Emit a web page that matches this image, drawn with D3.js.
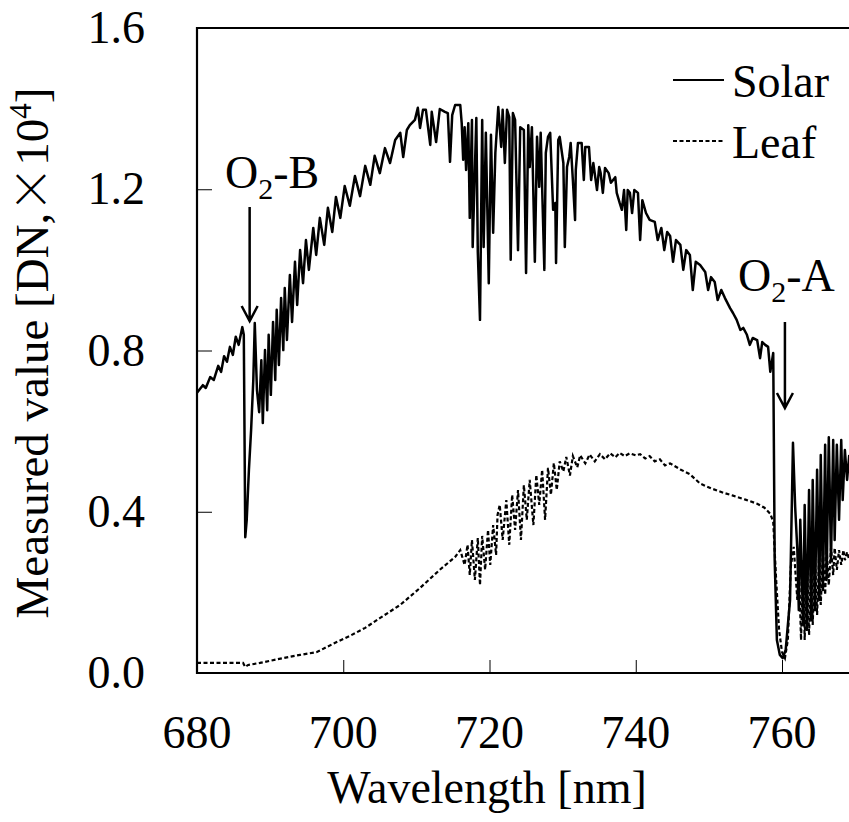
<!DOCTYPE html>
<html>
<head>
<meta charset="utf-8">
<script src="https://cdn.jsdelivr.net/npm/d3@7"></script>
<style>
  body { margin: 0; background: #fff; }
  svg { display: block; }
</style>
</head>
<body>
<div id="chart"></div>
<script>
var solarWl = [680.0, 680.8, 681.2, 681.8, 682.3, 682.9, 683.3, 683.7, 684.1, 684.5, 684.9, 685.3, 685.7, 686.2, 686.4,
  686.6, 686.8, 687.1, 687.4, 687.7, 687.9, 688.2, 688.5, 688.8, 689.0, 689.3, 689.6, 689.8, 690.1, 690.4, 690.7,
  690.9, 691.2, 691.5, 691.8, 692.0, 692.3, 692.7, 693.0, 693.4, 693.7, 694.1, 694.5, 694.9, 695.3, 695.9, 696.3,
  696.8, 697.4, 697.9, 698.5, 699.0, 699.6, 700.2, 700.9, 701.6, 702.3, 703.0, 703.7, 704.3, 705.0, 705.7, 706.4,
  707.1, 707.8, 708.2, 708.7, 709.1, 709.8, 710.2, 710.5, 710.9, 711.3, 711.9, 712.1, 712.7, 713.2, 713.9, 714.3,
  714.6, 714.9, 715.3, 716.0, 716.2, 716.4, 716.6, 716.8, 717.1, 717.3, 717.6, 717.7, 718.2, 718.4, 718.7, 719.0,
  719.2, 719.5, 719.9, 720.2, 720.5, 720.8, 721.2, 721.6, 721.8, 722.1, 722.4, 722.7, 722.9, 723.2, 723.5, 723.9,
  724.2, 724.7, 725.0, 725.3, 725.5, 725.8, 726.2, 726.5, 726.8, 727.0, 727.5, 727.7, 728.0, 728.3, 728.7, 729.0,
  729.1, 729.4, 729.6, 730.1, 730.3, 730.6, 730.9, 731.1, 731.4, 731.7, 731.8, 732.1, 732.6, 732.9, 733.1, 733.6,
  733.9, 734.2, 734.7, 735.0, 735.2, 735.5, 735.8, 736.3, 736.6, 737.2, 737.4, 737.8, 738.1, 738.4, 738.7, 738.9,
  739.2, 739.5, 739.8, 740.3, 740.6, 740.9, 741.4, 741.9, 742.6, 743.0, 743.5, 743.9, 744.3, 744.7, 745.1, 745.5,
  746.1, 746.5, 746.9, 747.4, 747.8, 748.2, 748.8, 749.5, 749.9, 750.3, 750.8, 751.2, 751.7, 752.2, 752.9, 753.3,
  753.8, 754.3, 754.7, 755.2, 755.6, 756.0, 756.6, 757.0, 757.3, 757.7, 758.1, 758.4, 758.8, 759.0, 759.3, 759.7,
  760.1, 760.5, 761.1, 761.5, 761.8, 762.1, 762.3, 762.5, 762.9, 763.1, 763.4, 763.7, 764.0, 764.2, 764.5, 764.8,
  765.1, 765.3, 765.6, 765.9, 766.1, 766.4, 766.7, 767.0, 767.2, 767.5, 767.8, 768.1, 768.3, 768.6, 768.9, 769.2];
var solarVal = [0.695, 0.714, 0.707, 0.734, 0.727, 0.762, 0.747, 0.786, 0.772, 0.809, 0.789, 0.834, 0.814, 0.858, 0.839,
  0.337, 0.380, 0.504, 0.603, 0.727, 0.868, 0.702, 0.647, 0.776, 0.620, 0.801, 0.652, 0.839, 0.690, 0.871, 0.727,
  0.901, 0.764, 0.930, 0.801, 0.955, 0.826, 0.987, 0.871, 1.020, 0.913, 1.049, 0.967, 1.074, 1.000, 1.104, 1.037,
  1.129, 1.062, 1.154, 1.094, 1.181, 1.129, 1.208, 1.159, 1.233, 1.183, 1.258, 1.211, 1.283, 1.240, 1.302, 1.265,
  1.322, 1.340, 1.280, 1.347, 1.359, 1.372, 1.402, 1.352, 1.397, 1.397, 1.310, 1.392, 1.317, 1.399, 1.392, 1.389,
  1.268, 1.384, 1.409, 1.409, 1.364, 1.273, 1.354, 1.248, 1.364, 1.129, 1.372, 1.057, 1.377, 1.044, 0.876, 1.372,
  1.057, 1.340, 0.967, 1.335, 1.092, 1.290, 1.404, 1.305, 1.397, 1.265, 1.397, 1.379, 1.025, 1.389, 1.372, 1.049,
  1.354, 1.347, 0.992, 1.359, 1.255, 1.354, 1.020, 1.330, 1.206, 1.340, 1.000, 1.290, 1.330, 1.340, 1.149, 1.166,
  1.017, 1.322, 1.330, 1.265, 1.057, 1.255, 1.280, 1.315, 1.223, 1.124, 1.248, 1.315, 1.315, 1.223, 1.305, 1.305,
  1.223, 1.265, 1.198, 1.255, 1.240, 1.191, 1.253, 1.240, 1.216, 1.230, 1.191, 1.166, 1.149, 1.198, 1.099, 1.198,
  1.191, 1.141, 1.198, 1.191, 1.074, 1.173, 1.141, 1.124, 1.119, 1.074, 1.104, 1.049, 1.094, 1.084, 1.020, 1.074,
  1.062, 1.000, 1.049, 1.037, 0.950, 1.020, 1.012, 0.995, 0.950, 0.982, 0.970, 0.925, 0.950, 0.930, 0.905, 0.893,
  0.876, 0.851, 0.856, 0.839, 0.814, 0.831, 0.826, 0.781, 0.821, 0.814, 0.809, 0.747, 0.794, 0.280, 0.082, 0.045,
  0.037, 0.057, 0.181, 0.571, 0.412, 0.305, 0.156, 0.380, 0.119, 0.417, 0.107, 0.454, 0.131, 0.479, 0.156, 0.504,
  0.181, 0.541, 0.206, 0.566, 0.231, 0.585, 0.280, 0.578, 0.330, 0.566, 0.380, 0.578, 0.429, 0.553, 0.479, 0.541];

var leafWl = [680.0, 686.3, 686.6, 687.0, 688.6, 691.8, 694.1, 696.4, 699.1, 700.9, 703.0, 705.0, 707.8, 710.5, 713.2,
  715.3, 716.0, 716.6, 717.0, 717.3, 717.6, 718.0, 718.4, 718.7, 719.0, 719.4, 719.8, 720.1, 720.5, 720.9, 721.1,
  721.4, 721.8, 722.3, 722.7, 723.1, 723.5, 723.9, 724.3, 724.7, 725.1, 725.5, 726.0, 726.4, 726.8, 727.2, 727.6,
  728.0, 728.4, 728.8, 729.2, 729.6, 730.1, 730.5, 731.0, 731.4, 732.0, 732.4, 733.1, 733.7, 734.4, 735.1, 735.8,
  736.5, 737.2, 737.8, 738.5, 739.2, 740.0, 740.6, 741.3, 741.9, 742.6, 743.3, 744.0, 744.7, 746.1, 747.4, 748.8,
  750.3, 752.0, 753.3, 755.0, 756.6, 757.6, 758.4, 758.8, 759.2,
  759.6, 760.0, 760.4, 760.8, 761.2, 761.6, 762.1, 762.3, 762.6, 762.9, 763.1, 763.4, 763.7, 764.0, 764.2, 764.5,
  764.8, 765.1, 765.3, 765.6, 765.9, 766.1, 766.4, 766.7, 767.0, 767.2, 767.5, 767.8, 768.1, 768.4, 768.6, 768.9, 769.2];
var leafVal = [0.025, 0.025, 0.015, 0.020, 0.025, 0.037, 0.045, 0.052, 0.077, 0.092, 0.112, 0.136, 0.169, 0.211, 0.256,
  0.288, 0.305, 0.268, 0.318, 0.243, 0.330, 0.231, 0.335, 0.218, 0.340, 0.256, 0.355, 0.268, 0.367, 0.293, 0.392,
  0.417, 0.330, 0.429, 0.318, 0.442, 0.355, 0.454, 0.330, 0.466, 0.380, 0.479, 0.367, 0.491, 0.417, 0.504, 0.380,
  0.509, 0.442, 0.521, 0.454, 0.525, 0.500, 0.536, 0.490, 0.538, 0.510, 0.540, 0.520, 0.542, 0.525, 0.543, 0.530,
  0.545, 0.535, 0.546, 0.538, 0.545, 0.540, 0.543, 0.532, 0.538, 0.525, 0.530, 0.515, 0.520, 0.505, 0.493, 0.470,
  0.458, 0.447, 0.440, 0.430, 0.420, 0.410, 0.395, 0.375, 0.231,
  0.107, 0.052, 0.037, 0.082, 0.263, 0.313, 0.181, 0.280, 0.082, 0.280, 0.082, 0.293, 0.094, 0.293, 0.119, 0.300,
  0.144, 0.305, 0.169, 0.305, 0.194, 0.310, 0.218, 0.310, 0.243, 0.310, 0.256, 0.305, 0.268, 0.305, 0.280, 0.300, 0.280];

var xTicks = [680, 700, 720, 740, 760];
var yTicks = [0.0, 0.4, 0.8, 1.2, 1.6];

var solar = solarWl.map(function (d, i) { return { wl: d, v: solarVal[i] }; });
var leaf = leafWl.map(function (d, i) { return { wl: d, v: leafVal[i] }; });

var W = 849, H = 822;
var plotL = 197, plotT = 28, plotB = 673, plotR = 849;
var font = '"Liberation Serif", "Times New Roman", serif';

var svg = d3.select('#chart').append('svg')
  .attr('width', W)
  .attr('height', H)
  .style('font-family', font);

// 680 sits on the left axis, 20 nm = 146.25 px; the chart is cut at the right
var x = d3.scaleLinear().domain([680, 770]).range([plotL, plotL + 90 * 7.3125]);
var y = d3.scaleLinear().domain([0, 1.6]).range([plotB, plotT]);

svg.append('clipPath').attr('id', 'plot')
  .append('rect').attr('x', plotL).attr('y', plotT).attr('width', plotR - plotL).attr('height', plotB - plotT);

var line = d3.line()
  .x(function (d) { return x(d.wl); })
  .y(function (d) { return y(d.v); });

var g = svg.append('g').attr('clip-path', 'url(#plot)');

g.append('path')
  .datum(leaf)
  .attr('d', line)
  .attr('fill', 'none')
  .attr('stroke', '#000')
  .attr('stroke-width', 2.2)
  .attr('stroke-dasharray', '4,2.5');

g.append('path')
  .datum(solar)
  .attr('d', line)
  .attr('fill', 'none')
  .attr('stroke', '#000')
  .attr('stroke-width', 2.5)
  .attr('stroke-linejoin', 'round');

// axes: ticks point inwards, labels drawn by hand
var xAxis = svg.append('g')
  .attr('transform', 'translate(0,' + plotB + ')')
  .call(d3.axisTop(x).tickValues(xTicks.slice(1)).tickSize(13).tickFormat(''));
xAxis.select('.domain').remove();
xAxis.selectAll('line').attr('stroke', '#000').attr('stroke-width', 1);

var yAxis = svg.append('g')
  .attr('transform', 'translate(' + plotL + ',0)')
  .call(d3.axisRight(y).tickValues(yTicks.slice(1, 4)).tickSize(15).tickFormat(''));
yAxis.select('.domain').remove();
yAxis.selectAll('line').attr('stroke', '#000').attr('stroke-width', 1);

// frame
svg.append('path')
  .attr('d', 'M' + plotR + ',' + plotT + 'H' + plotL + 'V' + plotB + 'H' + plotR)
  .attr('fill', 'none')
  .attr('stroke', '#000')
  .attr('stroke-width', 2.2);

svg.selectAll('.xlab')
  .data(xTicks)
  .enter().append('text')
  .attr('x', function (d) { return x(d); })
  .attr('y', 748)
  .attr('text-anchor', 'middle')
  .style('font-size', '46px')
  .text(function (d) { return d; });

svg.selectAll('.ylab')
  .data(yTicks)
  .enter().append('text')
  .attr('x', 145)
  .attr('y', function (d) { return y(d) + 15; })
  .attr('text-anchor', 'end')
  .style('font-size', '46px')
  .text(function (d) { return d.toFixed(1); });

svg.append('text')
  .attr('x', 487)
  .attr('y', 803)
  .attr('text-anchor', 'middle')
  .style('font-size', '46px')
  .text('Wavelength [nm]');

var yt = svg.append('text')
  .attr('transform', 'translate(48,353) rotate(-90)')
  .attr('text-anchor', 'middle')
  .style('font-size', '47px');
yt.append('tspan').text('Measured value [DN,');
yt.append('tspan').style('font-family', '"Noto Sans CJK JP"').style('font-weight', 300).text('\u00d7');
yt.append('tspan').text('10');
yt.append('tspan').attr('dy', -17).style('font-size', '31px').text('4');
yt.append('tspan').attr('dy', 17).text(']');

// legend
var legend = [{ name: 'Solar', dash: null, y: 80 }, { name: 'Leaf', dash: '4,2.5', y: 141 }];
legend.forEach(function (d) {
  svg.append('line')
    .attr('x1', 673).attr('x2', 724)
    .attr('y1', d.y).attr('y2', d.y)
    .attr('stroke', '#000')
    .attr('stroke-width', 2)
    .attr('stroke-dasharray', d.dash);
  svg.append('text')
    .attr('x', 732)
    .attr('y', d.y + 17)
    .style('font-size', '46px')
    .text(d.name);
});

// O2 band labels and arrows
var bands = [{ name: 'B', wl: 687.2, tx: 225, ty: 188, y1: 207, y2: 321 },
  { name: 'A', wl: 760.4, tx: 738, ty: 291, y1: 322, y2: 408 }];
bands.forEach(function (d) {
  var t = svg.append('text').attr('x', d.tx).attr('y', d.ty).style('font-size', '46px');
  t.append('tspan').text('O');
  t.append('tspan').attr('dy', 11).style('font-size', '30px').text('2');
  t.append('tspan').attr('dy', -11).text('-' + d.name);
  var ax = x(d.wl);
  svg.append('path')
    .attr('d', 'M' + ax + ',' + d.y1 + 'V' + d.y2 + 'M' + (ax - 8) + ',' + (d.y2 - 15) + 'L' + ax + ',' + d.y2 + 'L' + (ax + 8) + ',' + (d.y2 - 15))
    .attr('fill', 'none')
    .attr('stroke', '#000')
    .attr('stroke-width', 2.5);
});
</script>
</body>
</html>
